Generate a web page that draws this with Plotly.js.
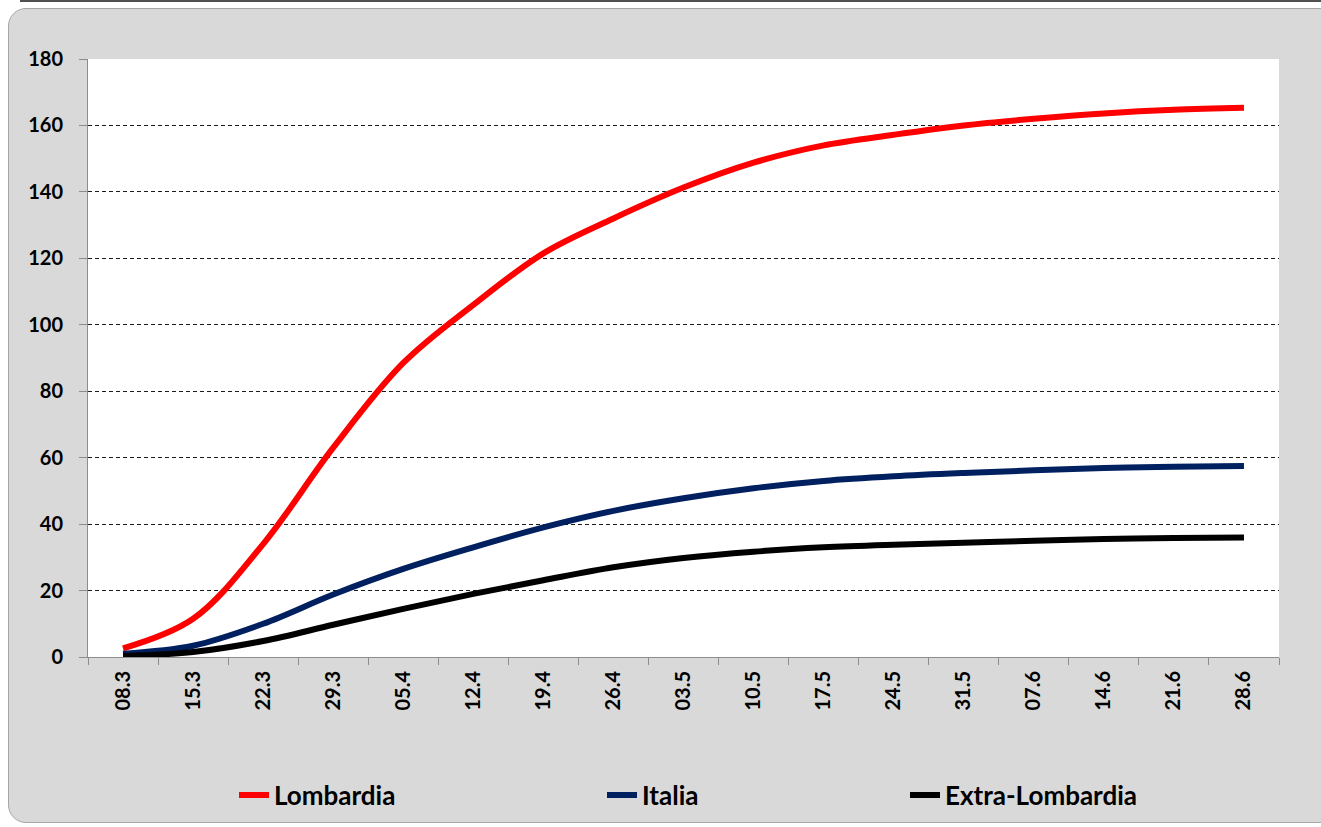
<!DOCTYPE html>
<html>
<head>
<meta charset="utf-8">
<script src="https://cdn.plot.ly/plotly-3.0.1.min.js"></script>
<style>
  html, body { margin: 0; padding: 0; background: #ffffff; width: 1321px; height: 827px; overflow: hidden; }
  #topline { position: absolute; left: 20px; top: 0px; width: 1301px; height: 2px; background: #505050; }
  #frame { position: absolute; left: 8px; top: 8px; width: 1330px; height: 815px; background: #d9d9d9;
           border: 1px solid #a6a6a6; border-radius: 18px; box-sizing: border-box; }
  #chart { position: absolute; left: 0; top: 0; width: 1321px; height: 827px; }
</style>
</head>
<body>
<div id="topline"></div>
<div id="frame"></div>
<div id="chart"></div>
<script>
// Week labels (category axis)
const weeks = ["08.3","15.3","22.3","29.3","05.4","12.4","19.4","26.4","03.5","10.5","17.5","24.5","31.5","07.6","14.6","21.6","28.6"];
// Series values
const lombardia = [2.6, 11.5, 34, 63, 88.5, 106, 121.5, 132, 141.3, 148.8, 154, 157.2, 160, 162, 163.6, 164.7, 165.3];
const italia = [1.0, 3.4, 10, 18.8, 26.5, 33, 39, 44, 47.8, 50.8, 53, 54.4, 55.4, 56.2, 56.9, 57.3, 57.5];
const extraLombardia = [0.3, 1.5, 4.8, 9.7, 14.5, 19, 23.1, 27, 29.8, 31.7, 33, 33.8, 34.4, 35, 35.5, 35.8, 36];
const seriesNames = ["Lombardia", "Italia", "Extra-Lombardia"];
const yTicks = [0, 20, 40, 60, 80, 100, 120, 140, 160, 180];

const LW = 6;
const SM = 1;
const traces = [
  { x: weeks, y: lombardia, name: seriesNames[0], type: "scatter", mode: "lines",
    line: { color: "#ff0000", width: LW, shape: "spline", smoothing: SM }, legend: "legend" },
  { x: weeks, y: italia, name: seriesNames[1], type: "scatter", mode: "lines",
    line: { color: "#002060", width: LW, shape: "spline", smoothing: SM }, legend: "legend2" },
  { x: weeks, y: extraLombardia, name: seriesNames[2], type: "scatter", mode: "lines",
    line: { color: "#000000", width: LW, shape: "spline", smoothing: SM }, legend: "legend3" }
];

const W = 1321, H = 827;
const mL = 88, mR = 42, mT = 59, mB = 170;
const cx = p => p / W;
const cy = p => 1 - p / H;

const FAM = "Lato, 'Open Sans', sans-serif";
const legendFont = { family: FAM, size: 26, color: "#000000", weight: "bold" };
const legendBase = { orientation: "h", xanchor: "left", yanchor: "middle", xref: "container", yref: "container",
                     bgcolor: "rgba(0,0,0,0)", font: legendFont, borderwidth: 0, itemwidth: 30 };

const layout = {
  width: W, height: H,
  margin: { l: mL, r: mR, t: mT, b: mB, pad: 0, autoexpand: false },
  paper_bgcolor: "rgba(0,0,0,0)",
  plot_bgcolor: "#ffffff",
  font: { family: FAM, size: 20, color: "#000000", weight: "bold" },
  showlegend: true,
  xaxis: {
    type: "category",
    range: [-0.5, weeks.length - 0.5],
    tickvals: weeks, ticktext: weeks,
    tickangle: -90,
    ticks: "outside", ticklen: 7, tickwidth: 1, tickcolor: "#8c8c8c",
    tickson: "boundaries",
    showline: true, linecolor: "#8c8c8c", linewidth: 1,
    showgrid: false, zeroline: false, automargin: false,
    tickfont: { family: FAM, size: 20, color: "#000000", weight: "bold" },
    ticklabelstandoff: 5
  },
  yaxis: {
    range: [0, 180],
    tickvals: yTicks, ticktext: yTicks.map(String),
    ticks: "outside", ticklen: 8, tickwidth: 1, tickcolor: "#8c8c8c",
    showline: true, linecolor: "#8c8c8c", linewidth: 1,
    showgrid: true, gridcolor: "#1a1a1a", gridwidth: 1, griddash: "4px,3px",
    zeroline: false, automargin: false,
    tickfont: { family: FAM, size: 20, color: "#000000", weight: "bold" },
    ticklabelstandoff: 12
  },
  legend:  Object.assign({}, legendBase, { x: cx(234), y: cy(795) }),
  legend2: Object.assign({}, legendBase, { x: cx(602), y: cy(795) }),
  legend3: Object.assign({}, legendBase, { x: cx(905), y: cy(795) })
};

Plotly.newPlot("chart", traces, layout, { staticPlot: true, displayModeBar: false });
</script>
</body>
</html>
